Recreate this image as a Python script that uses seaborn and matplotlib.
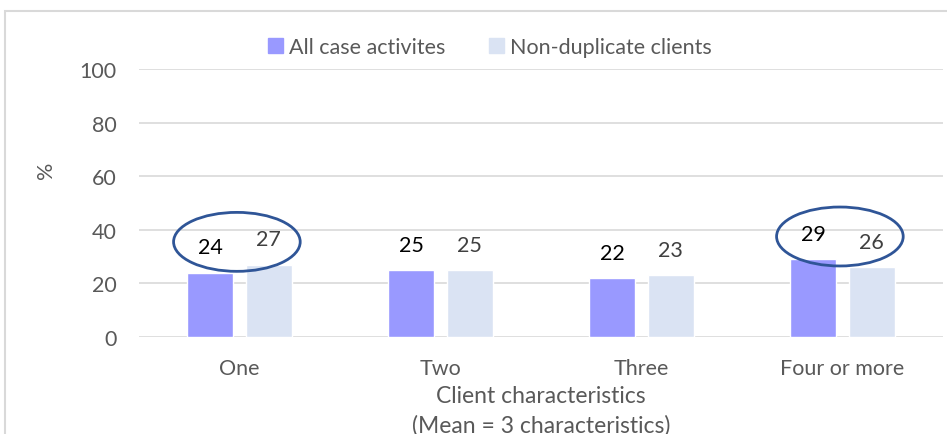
import numpy as np
import pandas as pd
import matplotlib
matplotlib.use("Agg")
import matplotlib.pyplot as plt
from matplotlib.patches import Ellipse, Rectangle
import seaborn as sns

# Datos
categorias = ["One", "Two", "Three", "Four or more"]
series = ["All case activites", "Non-duplicate clients"]
todas = [24, 25, 22, 29]
no_duplicados = [27, 25, 23, 26]
colores = ["#9999FF", "#DAE3F3"]
color_etiquetas = ["#000000", "#404040"]
circulos = [0, 3]  # categorias marcadas con ellipse

df = pd.DataFrame({
    "cat": categorias * 2,
    "serie": [series[0]] * 4 + [series[1]] * 4,
    "valor": todas + no_duplicados,
})

sns.set_style("white")
plt.rcParams["font.family"] = ["Lato", "DejaVu Sans"]
gris = "#595959"

fig = plt.figure(figsize=(9.47, 4.35), dpi=100)
ax = fig.add_axes([139 / 947, 97 / 435, 804 / 947, 268 / 435])

sns.barplot(data=df, x="cat", y="valor", hue="serie", palette=colores,
            width=0.58, gap=0.21, ax=ax, legend=False, saturation=1)

for cont, col in zip(ax.containers, color_etiquetas):
    ax.bar_label(cont, labels=[f"{v:.0f}" for v in cont.datavalues],
                 padding=11, color=col, fontsize=15.5)

# Ellipses de resalte
for i in circulos:
    h = max(todas[i], no_duplicados[i])
    ax.add_patch(Ellipse((i - 0.013, h + 8.5), 0.63, 22, fill=False,
                         edgecolor="#2F5597", linewidth=2, zorder=5))

ax.set_ylim(0, 100)
ax.set_xlim(-0.5, 3.5)
ax.set_yticks(range(0, 101, 20))
ax.yaxis.grid(True, color="#D9D9D9", linewidth=1.2)
ax.set_axisbelow(True)
for s in ax.spines.values():
    s.set_visible(False)
ax.tick_params(axis="both", length=0, colors=gris, labelsize=15.5)
ax.tick_params(axis="y", pad=16)
ax.tick_params(axis="x", pad=15)
ax.set_xlabel("Client characteristics\n(Mean = 3 characteristics)",
              color=gris, fontsize=16.5, labelpad=5, linespacing=1.45)
ax.set_ylabel("%", color=gris, fontsize=15.5)
ax.yaxis.set_label_coords(-0.103, 0.627)

handles = [Rectangle((0, 0), 1, 1, color=c) for c in colores]
fig.legend(handles, series, loc="center", bbox_to_anchor=(490 / 947, 1 - 48 / 435),
           ncol=2, frameon=False, fontsize=15.5, handlelength=0.7, handleheight=0.7,
           handletextpad=0.3, columnspacing=2.0, labelcolor=gris)

# Marco
fig.add_artist(Rectangle((5 / 947, -0.1), 1.2, 1.1 - 12 / 435, transform=fig.transFigure,
                         fill=False, edgecolor="#D9D9D9", linewidth=1.5))

fig.savefig("out.png", dpi=100)
